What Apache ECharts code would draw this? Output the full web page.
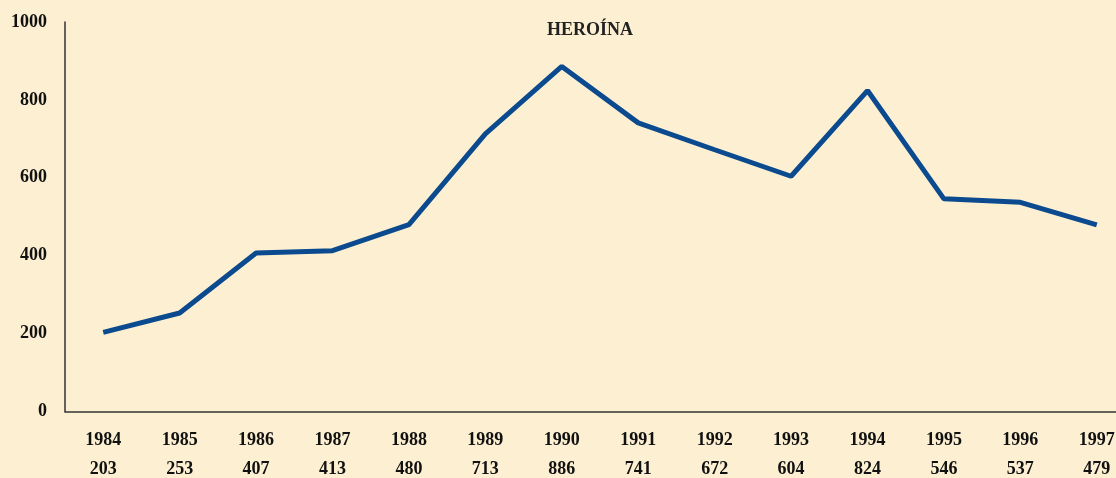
<!DOCTYPE html>
<html><head><meta charset="utf-8">
<script src="https://cdn.jsdelivr.net/npm/echarts@6/dist/echarts.min.js"></script>
<style>html,body{margin:0;padding:0;background:#fdf0d2;overflow:hidden;width:1116px;height:478px;}#c{width:1135px;height:478px;}</style>
</head><body><div id="c"></div>
<script>
const years = ['1984','1985','1986','1987','1988','1989','1990','1991','1992','1993','1994','1995','1996','1997'];
const values = [203,253,407,413,480,713,886,741,672,604,824,546,537,479];
const yTicks = [0,200,400,600,800,1000];
const title = 'HEROÍNA';

const font = 'Liberation Serif';
const chart = echarts.init(document.getElementById('c'));
chart.setOption({
  backgroundColor: '#fdf0d2',
  animation: false,
  title: {text: title, left: 542, top: 16,
    textStyle: {fontFamily: font, fontWeight: 'bold', fontSize: 18, color: '#222'}},
  grid: {left: 65, right: 0, top: 22, bottom: 65, containLabel: false},
  xAxis: {
    type: 'category', data: years, boundaryGap: true,
    axisLine: {lineStyle: {color: '#333', width: 1.5}},
    axisTick: {show: false},
    axisLabel: {
      interval: 0, margin: 14,
      formatter: (v, i) => '{a|' + v + '}\n{b|' + values[i] + '}',
      rich: {
        a: {fontFamily: font, fontWeight: 'bold', fontSize: 18, color: '#111', lineHeight: 29},
        b: {fontFamily: font, fontWeight: 'bold', fontSize: 18, color: '#111', lineHeight: 29}
      }
    }
  },
  yAxis: {
    type: 'value', min: yTicks[0], max: yTicks[yTicks.length-1], interval: 200,
    axisLine: {show: true, lineStyle: {color: '#333', width: 1.5}},
    axisTick: {show: false},
    splitLine: {show: false},
    axisLabel: {margin: 18, fontFamily: font, fontWeight: 'bold', fontSize: 18, color: '#111',
      formatter: v => String(v)}
  },
  series: [{
    type: 'line', data: values, symbol: 'none',
    lineStyle: {color: '#0b4a8e', width: 5}
  }]
});
</script></body></html>
